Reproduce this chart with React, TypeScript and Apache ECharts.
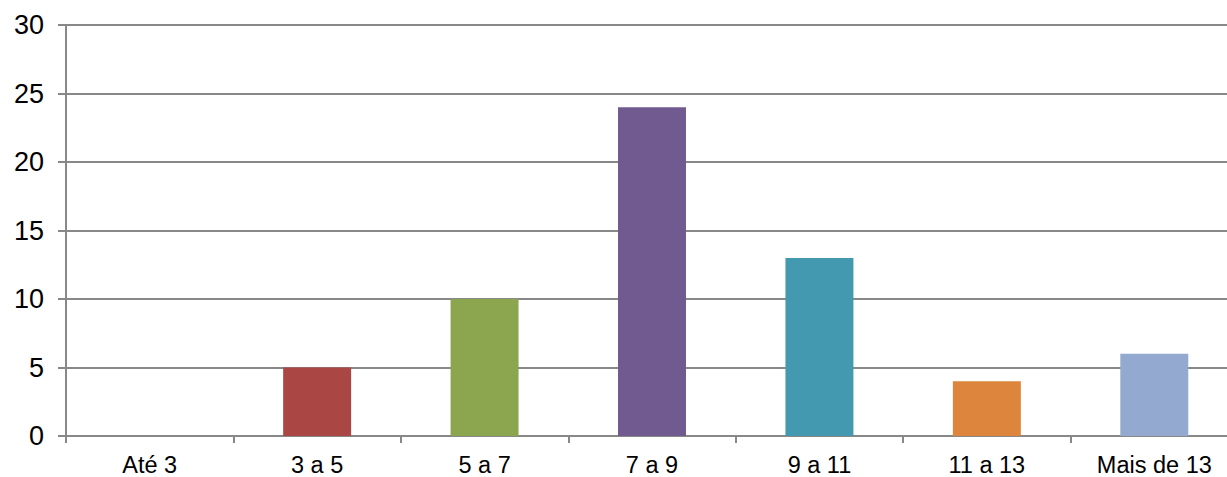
import React, { useEffect, useRef } from "react";
import * as echarts from "echarts";

const categories = ["Até 3", "3 a 5", "5 a 7", "7 a 9", "9 a 11", "11 a 13", "Mais de 13"];
const values = [0, 5, 10, 24, 13, 4, 6];
const colors = ["#4F81BD", "#AA4744", "#8BA64F", "#715A8F", "#4399B0", "#DD843D", "#94A9CF"];

export default function App() {
  const ref = useRef<HTMLDivElement>(null);
  useEffect(() => {
    const chart = echarts.init(ref.current!, null, { renderer: "svg" });
    chart.setOption({
      animation: false,
      backgroundColor: "#ffffff",
      grid: { left: 66, right: 2, top: 25, bottom: 40 },
      xAxis: {
        type: "category",
        data: categories,
        axisLine: { lineStyle: { color: "#888888", width: 2 } },
        axisTick: { show: true, length: 7, lineStyle: { color: "#888888", width: 2 } },
        axisLabel: { color: "#000000", fontSize: 23.5, fontFamily: "Liberation Sans", margin: 17 },
      },
      yAxis: {
        type: "value",
        min: 0,
        max: 30,
        interval: 5,
        axisLine: { show: true, lineStyle: { color: "#888888", width: 2 } },
        axisTick: { show: true, length: 8, lineStyle: { color: "#888888", width: 2 } },
        splitLine: { lineStyle: { color: "#888888", width: 2 } },
        axisLabel: { color: "#000000", fontSize: 27, fontFamily: "Liberation Sans", margin: 22 },
      },
      series: [
        {
          type: "bar",
          barWidth: "40.6%",
          data: values.map((v, i) => ({ value: v, itemStyle: { color: colors[i] } })),
        },
      ],
    });
    return () => chart.dispose();
  }, []);
  return (
    <div style={{ position: "absolute", left: 0, top: 0, width: 1227, height: 477, overflow: "hidden", background: "#fff" }}>
      <div ref={ref} style={{ position: "absolute", left: 0, top: 0, width: 1240, height: 477 }} />
    </div>
  );
}
